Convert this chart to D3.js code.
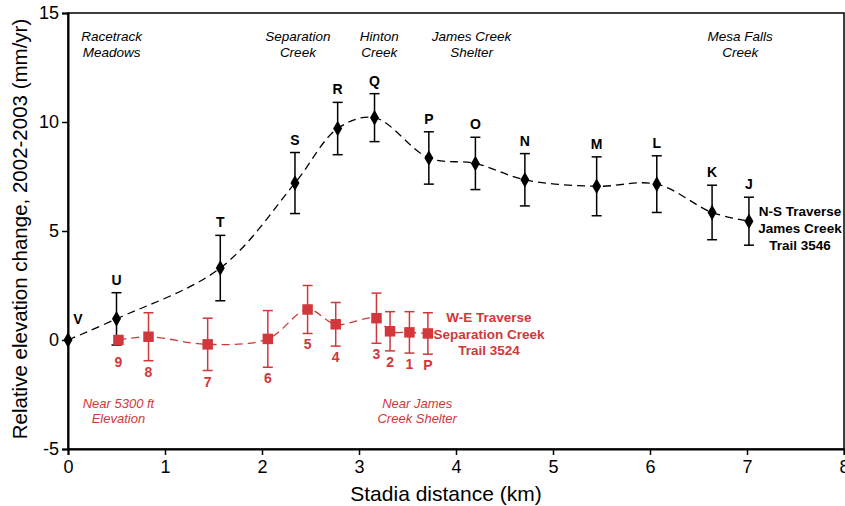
<!DOCTYPE html>
<html>
<head>
<meta charset="utf-8">
<script src="https://cdn.jsdelivr.net/npm/d3@7"></script>
<style>
  body { margin: 0; background: #fff; }
  text { font-family: "Liberation Sans", Arial, sans-serif; }
</style>
</head>
<body>
<svg id="chart" width="845" height="506"></svg>
<script>
// N-S traverse, James Creek Trail 3546 (black)
const nsLabels = ["V", "U", "T", "S", "R", "Q", "P", "O", "N", "M", "L", "K", "J"];
const nsDist   = [0, 0.5, 1.57, 2.34, 2.78, 3.16, 3.72, 4.2, 4.71, 5.45, 6.07, 6.64, 7.02];
const nsValue  = [0, 0.97, 3.3, 7.2, 9.7, 10.2, 8.35, 8.1, 7.35, 7.05, 7.15, 5.85, 5.45];
const nsError  = [0, 1.2, 1.5, 1.4, 1.2, 1.1, 1.2, 1.2, 1.2, 1.35, 1.3, 1.25, 1.1];

// W-E traverse, Separation Creek Trail 3524 (red)
const weLabels = ["9", "8", "7", "6", "5", "4", "3", "2", "1", "P"];
const weDist   = [0.52, 0.83, 1.44, 2.06, 2.47, 2.76, 3.18, 3.32, 3.52, 3.71];
const weValue  = [0, 0.15, -0.2, 0.05, 1.4, 0.72, 1.0, 0.4, 0.35, 0.3];
const weError  = [0, 1.1, 1.2, 1.3, 1.1, 1.0, 1.15, 0.9, 0.95, 0.95];

const xTicks = [0, 1, 2, 3, 4, 5, 6, 7, 8];
const yTicks = [-5, 0, 5, 10, 15];

const placeNames = [
  {km: 0.45, lines: ["Racetrack", "Meadows"]},
  {km: 2.37, lines: ["Separation", "Creek"]},
  {km: 3.21, lines: ["Hinton", "Creek"]},
  {km: 4.16, lines: ["James Creek", "Shelter"]},
  {km: 6.93, lines: ["Mesa Falls", "Creek"]}
];

const red = "#d1373b";
const svg = d3.select("#chart");
const x = d3.scaleLinear().domain([0, 8]).range([68, 844]);
const y = d3.scaleLinear().domain([-5, 15]).range([449, 13]);

// frame
svg.append("rect")
  .attr("x", x(0)).attr("y", y(15))
  .attr("width", x(8) - x(0)).attr("height", y(-5) - y(15))
  .attr("fill", "none").attr("stroke", "#000").attr("stroke-width", 1.5);

const xAxis = svg.append("g")
  .attr("transform", `translate(0,${y(-5)})`)
  .call(d3.axisBottom(x).tickValues(xTicks).tickSize(6).tickPadding(5).tickFormat(d => String(d)));
const yAxis = svg.append("g")
  .attr("transform", `translate(${x(0)},0)`)
  .call(d3.axisLeft(y).tickValues(yTicks).tickSize(6).tickPadding(3).tickFormat(d => String(d)));
[xAxis, yAxis].forEach(g => {
  g.select(".domain").attr("stroke-width", 2);
  g.selectAll(".tick line").attr("stroke-width", 1.5);
  g.selectAll(".tick text").attr("font-size", 18).attr("font-family", "Liberation Sans, Arial, sans-serif").attr("fill", "#000");
});

svg.append("text")
  .attr("x", x(4) - 10).attr("y", 501)
  .attr("text-anchor", "middle").attr("font-size", 21)
  .text("Stadia distance (km)");
svg.append("text")
  .attr("transform", `translate(27,${y(5) - 2}) rotate(-90)`)
  .attr("text-anchor", "middle").attr("font-size", 20.5)
  .text("Relative elevation change, 2002-2003 (mm/yr)");

// place names along the top
placeNames.forEach(p => {
  const t = svg.append("text")
    .attr("x", x(p.km)).attr("y", 41)
    .attr("text-anchor", "middle").attr("font-size", 13.5).attr("font-style", "italic");
  p.lines.forEach((l, i) => t.append("tspan").attr("x", x(p.km)).attr("dy", i ? 15.5 : 0).text(l));
});

function series(dist, vals, errs, labels, color, symbolType, size) {
  const pts = dist.map((d, i) => ({d, v: vals[i], e: errs[i], l: labels[i]}));
  const line = d3.line().curve(d3.curveCatmullRom.alpha(0.5)).x(p => x(p.d)).y(p => y(p.v));
  svg.append("path").attr("d", line(pts))
    .attr("fill", "none").attr("stroke", color).attr("stroke-width", 1.3)
    .attr("stroke-dasharray", "8,5");
  const g = svg.append("g");
  pts.filter(p => p.e > 0).forEach(p => {
    g.append("line").attr("x1", x(p.d)).attr("x2", x(p.d))
      .attr("y1", y(p.v + p.e)).attr("y2", y(p.v - p.e))
      .attr("stroke", color).attr("stroke-width", 1.5);
    [p.v + p.e, p.v - p.e].forEach(v => g.append("line")
      .attr("x1", x(p.d) - 5).attr("x2", x(p.d) + 5)
      .attr("y1", y(v)).attr("y2", y(v))
      .attr("stroke", color).attr("stroke-width", 1.5));
  });
  g.selectAll("path.sym").data(pts).join("path")
    .attr("class", "sym")
    .attr("transform", p => `translate(${x(p.d)},${y(p.v)})`)
    .attr("d", d3.symbol().type(symbolType).size(size))
    .attr("fill", color);
  return pts;
}

const ns = series(nsDist, nsValue, nsError, nsLabels, "#000", d3.symbolDiamond, 70);
ns.forEach(p => {
  const top = p.e > 0 ? y(p.v + p.e) - 8 : y(p.v) - 16;
  svg.append("text").attr("x", x(p.d) + (p.e > 0 ? 0 : 10)).attr("y", top)
    .attr("text-anchor", "middle").attr("font-size", 14).attr("font-weight", "bold")
    .text(p.l);
});

const we = series(weDist, weValue, weError, weLabels, red, d3.symbolSquare, 110);
we.forEach(p => {
  const bottom = p.e > 0 ? y(p.v - p.e) : y(p.v) + 6;
  const off = p.l === "9" ? 21 : 16;
  svg.append("text").attr("x", x(p.d)).attr("y", bottom + off)
    .attr("text-anchor", "middle").attr("font-size", 14).attr("font-weight", "bold")
    .attr("fill", red).text(p.l);
});

// series captions
function caption(cx, cy, lines, color, bold, italic, size, gap) {
  const t = svg.append("text").attr("x", cx).attr("y", cy)
    .attr("text-anchor", "middle").attr("font-size", size).attr("fill", color)
    .attr("font-weight", bold ? "bold" : null).attr("font-style", italic ? "italic" : null);
  lines.forEach((l, i) => t.append("tspan").attr("x", cx).attr("dy", i ? gap : 0).text(l));
}
caption(800, 216, ["N-S Traverse", "James Creek", "Trail 3546"], "#000", true, false, 13.5, 17);
caption(489, 322, ["W-E Traverse", "Separation Creek", "Trail 3524"], red, true, false, 13.5, 16.5);
caption(x(0.52), 408, ["Near 5300 ft", "Elevation"], red, false, true, 13, 15);
caption(x(3.6), 408, ["Near James", "Creek Shelter"], red, false, true, 13, 15);
</script>
</body>
</html>
